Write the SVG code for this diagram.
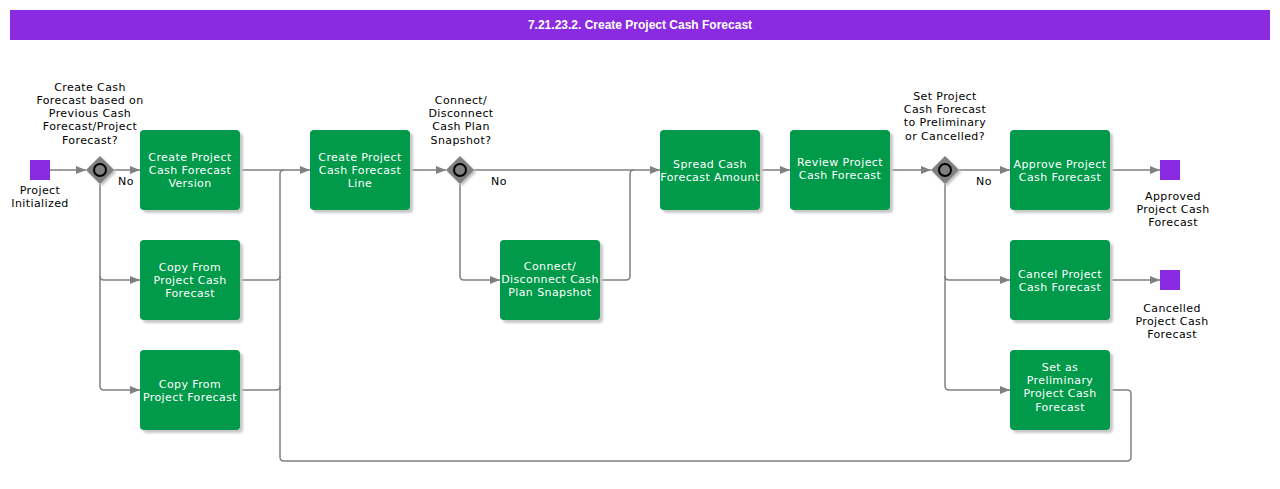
<svg xmlns="http://www.w3.org/2000/svg" width="1280" height="489" viewBox="0 0 1280 489">
<style>
.t{font-family:"DejaVu Sans",Verdana,sans-serif;font-size:11px;text-anchor:middle;letter-spacing:0.4px}
.w{fill:#ffffff}
.k{fill:#000000}
.task{fill:#009a4a}
.sh{fill:#c8c8c8}
.ev{fill:#8a2be2}
.c{fill:none;stroke:#808080;stroke-width:1.5}
.gw{fill:#808080}
.gs{fill:#c0c0c0}
</style>
<defs>
<marker id="ar" viewBox="0 0 10 10" refX="10" refY="5" markerWidth="10" markerHeight="10" markerUnits="userSpaceOnUse" orient="auto">
<path d="M0,1 L10,5 L0,9 Z" fill="#808080"/>
</marker>
<filter id="blur" x="-20%" y="-20%" width="140%" height="140%"><feGaussianBlur stdDeviation="1.2"/></filter>
</defs>
<rect x="0" y="0" width="1280" height="489" fill="#ffffff"/>
<g id="title">
<rect x="10" y="10" width="1260" height="30" fill="#8a2be2"/>
<text x="640" y="29" style="font-family:'Liberation Sans',Arial,sans-serif;font-size:12px;font-weight:bold;text-anchor:middle" fill="#ffffff">7.21.23.2. Create Project Cash Forecast</text>
</g>
<g id="connectors">
<path class="c" d="M50,170 H86" marker-end="url(#ar)"/>
<path class="c" d="M114,170 H140" marker-end="url(#ar)"/>
<path class="c" d="M100,184 V276 Q100,280 104,280 H140" marker-end="url(#ar)"/>
<path class="c" d="M100,276 V386 Q100,390 104,390 H140" marker-end="url(#ar)"/>
<path class="c" d="M240,170 H310" marker-end="url(#ar)"/>
<path class="c" d="M240,280 H276 Q280,280 280,276 V174 Q280,170 284,170"/>
<path class="c" d="M240,390 H276 Q280,390 280,386 V276"/>
<path class="c" d="M1110,390 H1127 Q1131,390 1131,394 V457 Q1131,461 1127,461 H284 Q280,461 280,457 V386"/>
<path class="c" d="M410,170 H446" marker-end="url(#ar)"/>
<path class="c" d="M474,170 H660" marker-end="url(#ar)"/>
<path class="c" d="M460,184 V276 Q460,280 464,280 H500" marker-end="url(#ar)"/>
<path class="c" d="M600,280 H626 Q630,280 630,276 V174 Q630,170 634,170"/>
<path class="c" d="M760,170 H790" marker-end="url(#ar)"/>
<path class="c" d="M890,170 H931" marker-end="url(#ar)"/>
<path class="c" d="M959,170 H1010" marker-end="url(#ar)"/>
<path class="c" d="M945,184 V276 Q945,280 949,280 H1010" marker-end="url(#ar)"/>
<path class="c" d="M945,276 V386 Q945,390 949,390 H1010" marker-end="url(#ar)"/>
<path class="c" d="M1110,170 H1160" marker-end="url(#ar)"/>
<path class="c" d="M1110,280 H1160" marker-end="url(#ar)"/>
<text class="t k" x="126" y="185">No</text>
<text class="t k" x="499" y="185">No</text>
<text class="t k" x="984" y="185">No</text>
</g>
<g id="start">
<rect x="30" y="160" width="20" height="20" class="ev"/>
<text class="t k" x="40" y="194">Project</text>
<text class="t k" x="40" y="207">Initialized</text>
</g>
<g id="gw1">
<path d="M102,158 L116,172 L102,186 L88,172 Z" class="gs" filter="url(#blur)"/>
<path d="M100,156 L114,170 L100,184 L86,170 Z" class="gw"/>
<circle cx="100" cy="170" r="6" fill="none" stroke="#000" stroke-width="2"/>
<text class="t k" x="90" y="91">Create Cash</text>
<text class="t k" x="90" y="104">Forecast based on</text>
<text class="t k" x="90" y="117">Previous Cash</text>
<text class="t k" x="90" y="130">Forecast/Project</text>
<text class="t k" x="90" y="144">Forecast?</text>
</g>
<g id="task1">
<rect x="143" y="133" width="100" height="80" rx="4" class="sh" filter="url(#blur)"/>
<rect x="140" y="130" width="100" height="80" rx="4" class="task"/>
<text class="t w" x="190" y="161">Create Project</text>
<text class="t w" x="190" y="174">Cash Forecast</text>
<text class="t w" x="190" y="187">Version</text>
</g>
<g id="task2">
<rect x="143" y="243" width="100" height="80" rx="4" class="sh" filter="url(#blur)"/>
<rect x="140" y="240" width="100" height="80" rx="4" class="task"/>
<text class="t w" x="190" y="271">Copy From</text>
<text class="t w" x="190" y="284">Project Cash</text>
<text class="t w" x="190" y="297">Forecast</text>
</g>
<g id="task3">
<rect x="143" y="353" width="100" height="80" rx="4" class="sh" filter="url(#blur)"/>
<rect x="140" y="350" width="100" height="80" rx="4" class="task"/>
<text class="t w" x="190" y="388">Copy From</text>
<text class="t w" x="190" y="401">Project Forecast</text>
</g>
<g id="task4">
<rect x="313" y="133" width="100" height="80" rx="4" class="sh" filter="url(#blur)"/>
<rect x="310" y="130" width="100" height="80" rx="4" class="task"/>
<text class="t w" x="360" y="161">Create Project</text>
<text class="t w" x="360" y="174">Cash Forecast</text>
<text class="t w" x="360" y="187">Line</text>
</g>
<g id="gw2">
<path d="M462,158 L476,172 L462,186 L448,172 Z" class="gs" filter="url(#blur)"/>
<path d="M460,156 L474,170 L460,184 L446,170 Z" class="gw"/>
<circle cx="460" cy="170" r="6" fill="none" stroke="#000" stroke-width="2"/>
<text class="t k" x="461" y="104">Connect/</text>
<text class="t k" x="461" y="117">Disconnect</text>
<text class="t k" x="461" y="130">Cash Plan</text>
<text class="t k" x="461" y="144">Snapshot?</text>
</g>
<g id="task5">
<rect x="503" y="243" width="100" height="80" rx="4" class="sh" filter="url(#blur)"/>
<rect x="500" y="240" width="100" height="80" rx="4" class="task"/>
<text class="t w" x="550" y="270">Connect/</text>
<text class="t w" x="550" y="283">Disconnect Cash</text>
<text class="t w" x="550" y="296">Plan Snapshot</text>
</g>
<g id="task6">
<rect x="663" y="133" width="100" height="80" rx="4" class="sh" filter="url(#blur)"/>
<rect x="660" y="130" width="100" height="80" rx="4" class="task"/>
<text class="t w" x="710" y="168">Spread Cash</text>
<text class="t w" x="710" y="181">Forecast Amount</text>
</g>
<g id="task7">
<rect x="793" y="133" width="100" height="80" rx="4" class="sh" filter="url(#blur)"/>
<rect x="790" y="130" width="100" height="80" rx="4" class="task"/>
<text class="t w" x="840" y="166">Review Project</text>
<text class="t w" x="840" y="179">Cash Forecast</text>
</g>
<g id="gw3">
<path d="M947,158 L961,172 L947,186 L933,172 Z" class="gs" filter="url(#blur)"/>
<path d="M945,156 L959,170 L945,184 L931,170 Z" class="gw"/>
<circle cx="945" cy="170" r="6" fill="none" stroke="#000" stroke-width="2"/>
<text class="t k" x="945" y="100">Set Project</text>
<text class="t k" x="945" y="113">Cash Forecast</text>
<text class="t k" x="945" y="126">to Preliminary</text>
<text class="t k" x="945" y="140">or Cancelled?</text>
</g>
<g id="task8">
<rect x="1013" y="133" width="100" height="80" rx="4" class="sh" filter="url(#blur)"/>
<rect x="1010" y="130" width="100" height="80" rx="4" class="task"/>
<text class="t w" x="1060" y="168">Approve Project</text>
<text class="t w" x="1060" y="181">Cash Forecast</text>
</g>
<g id="task9">
<rect x="1013" y="243" width="100" height="80" rx="4" class="sh" filter="url(#blur)"/>
<rect x="1010" y="240" width="100" height="80" rx="4" class="task"/>
<text class="t w" x="1060" y="278">Cancel Project</text>
<text class="t w" x="1060" y="291">Cash Forecast</text>
</g>
<g id="task10">
<rect x="1013" y="353" width="100" height="80" rx="4" class="sh" filter="url(#blur)"/>
<rect x="1010" y="350" width="100" height="80" rx="4" class="task"/>
<text class="t w" x="1060" y="371">Set as</text>
<text class="t w" x="1060" y="384">Preliminary</text>
<text class="t w" x="1060" y="397">Project Cash</text>
<text class="t w" x="1060" y="411">Forecast</text>
</g>
<g id="end1">
<rect x="1160" y="160" width="20" height="20" class="ev"/>
<text class="t k" x="1173" y="200">Approved</text>
<text class="t k" x="1173" y="213">Project Cash</text>
<text class="t k" x="1173" y="226">Forecast</text>
</g>
<g id="end2">
<rect x="1160" y="270" width="20" height="20" class="ev"/>
<text class="t k" x="1172" y="312">Cancelled</text>
<text class="t k" x="1172" y="325">Project Cash</text>
<text class="t k" x="1172" y="338">Forecast</text>
</g>
</svg>
